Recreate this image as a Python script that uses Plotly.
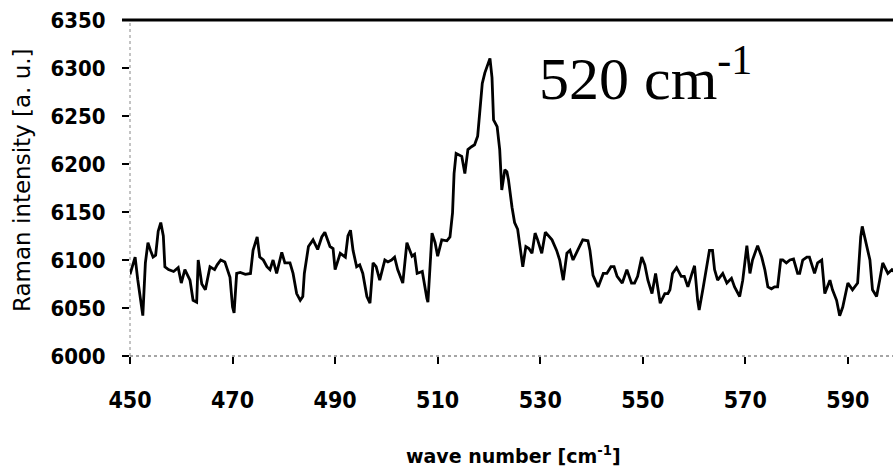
import plotly.graph_objects as go

# Raman spectrum
wavenumber = [
    450.0, 450.5, 451.0, 451.5, 452.0, 452.5, 453.0, 453.5, 454.0, 454.5,
    455.0, 455.5, 456.0, 456.5, 456.8, 457.5, 458.5, 459.4, 460.0, 460.7,
    461.7, 462.3, 463.0, 463.3, 464.0, 464.7, 465.6, 466.5, 467.0, 467.7,
    468.5, 469.5, 470.0, 470.3, 470.8, 471.5, 472.5, 473.5, 474.0, 474.8,
    475.3, 476.0, 476.7, 477.3, 477.9, 478.6, 479.6, 480.2, 481.2, 481.8,
    482.5, 483.2, 483.7, 484.0, 484.8, 485.7, 486.6, 487.4, 488.0, 488.4,
    489.0, 489.6, 490.0, 491.0, 492.0, 492.5, 493.0, 493.5, 494.2, 494.8,
    495.4, 496.2, 496.8, 497.4, 498.0, 498.7, 499.7, 500.3, 501.0, 501.6,
    502.2, 503.2, 504.0, 505.0, 505.5, 506.0, 507.0, 507.9, 508.1, 508.9,
    509.5, 510.0, 510.8, 511.8, 512.4, 512.9, 513.2, 513.6, 514.0, 514.7,
    515.3, 515.9, 516.6, 517.2, 517.8, 518.3, 518.7, 519.2, 519.8, 520.2,
    520.6, 520.9, 521.6, 522.1, 522.5, 523.1, 523.5, 523.8, 524.5, 525.0,
    525.6, 526.2, 526.6, 527.2, 527.8, 528.4, 529.0, 529.5, 530.3, 531.0,
    531.6, 532.3, 533.2, 533.8, 534.5, 535.2, 535.8, 536.4, 537.3, 538.3,
    539.3, 539.7, 540.3, 541.3, 542.3, 543.0, 543.8, 544.4, 545.0, 546.0,
    546.9, 547.8, 548.4, 549.0, 549.8, 550.4, 551.0, 551.8, 552.5, 553.4,
    554.3, 554.9, 555.3, 555.8, 556.6, 557.5, 558.1, 558.8, 559.6, 560.1,
    560.7, 561.0, 561.8, 562.5, 563.0, 563.6, 564.0, 564.6, 565.6, 566.4,
    567.3, 567.9, 568.9, 569.5, 570.3, 570.9, 571.4, 572.4, 573.2, 573.8,
    574.4, 575.1, 575.7, 576.3, 576.9, 577.3, 578.0, 578.7, 579.4, 580.2,
    580.6, 581.2, 582.0, 582.5, 583.5, 584.1, 584.9, 585.5, 586.5, 587.0,
    587.8, 588.4, 589.0, 590.0, 590.9, 591.9, 592.5, 592.8, 593.7, 594.3,
    594.8, 595.6, 596.2, 596.8, 597.8, 598.6, 599.0,
]
intensity = [
    6085, 6095, 6103, 6080, 6060, 6042, 6097, 6118, 6110, 6103,
    6105, 6130, 6139, 6125, 6093, 6090, 6088, 6092, 6076, 6090,
    6079, 6058, 6056, 6100, 6075, 6069, 6093, 6090, 6095, 6100,
    6098, 6082, 6051, 6045, 6086, 6087, 6085, 6086, 6110, 6124,
    6103, 6100, 6093, 6090, 6100, 6086, 6108, 6097, 6097, 6086,
    6065, 6058, 6062, 6086, 6114, 6121, 6111, 6124, 6129, 6122,
    6114, 6112, 6090, 6107, 6103, 6125, 6131, 6110, 6093, 6095,
    6086, 6062, 6055, 6097, 6093, 6079, 6100, 6098, 6100, 6103,
    6090, 6076, 6118, 6104, 6106, 6086, 6088, 6060, 6056, 6128,
    6118, 6104, 6121, 6120, 6124, 6149, 6190, 6211, 6210, 6208,
    6190, 6215, 6218, 6220, 6229, 6262, 6284, 6295, 6305, 6310,
    6290, 6246, 6239, 6215, 6173, 6194, 6192, 6184, 6155, 6139,
    6132, 6107, 6093, 6114, 6112, 6107, 6128, 6121, 6107, 6129,
    6125, 6121, 6110, 6100, 6079, 6107, 6110, 6100, 6110, 6121,
    6120, 6110, 6084, 6072, 6086, 6086, 6093, 6093, 6083, 6076,
    6090, 6076, 6076, 6083, 6103, 6095, 6079, 6065, 6086, 6055,
    6065, 6065, 6069, 6086, 6092, 6083, 6083, 6072, 6086, 6094,
    6058, 6048, 6072, 6097, 6110, 6110, 6090, 6079, 6086, 6076,
    6081, 6072, 6062, 6079, 6115, 6086, 6100, 6115, 6103, 6090,
    6072, 6070, 6072, 6072, 6100, 6100, 6097, 6100, 6101, 6086,
    6086, 6100, 6103, 6103, 6086, 6097, 6100, 6065, 6079, 6069,
    6058, 6042, 6051, 6076, 6069, 6076, 6124, 6135, 6114, 6100,
    6069, 6062, 6079, 6097, 6086, 6090, 6088,
]

x_ticks = [450, 470, 490, 510, 530, 550, 570, 590]
y_ticks = [6000, 6050, 6100, 6150, 6200, 6250, 6300, 6350]

x_title = "wave number [cm<sup>-1</sup>]"
y_title = "Raman intensity [a. u.]"
peak_label = "520 cm<sup>-1</sup>"

fig = go.Figure()
fig.add_trace(go.Scatter(
    x=wavenumber, y=intensity, mode="lines",
    line=dict(color="black", width=2.8),
    showlegend=False, hoverinfo="skip",
))

fig.update_layout(
    width=893, height=473,
    margin=dict(l=130, r=0, t=20, b=117),
    paper_bgcolor="white", plot_bgcolor="white",
    xaxis=dict(
        range=[450, 598.8], tickvals=x_ticks, ticktext=[str(v) for v in x_ticks],
        showgrid=False, zeroline=False, showline=False,
        ticks="outside", ticklen=7, tickwidth=2, tickcolor="black",
        tickfont=dict(family="DejaVu Sans Condensed", size=23, color="black", weight="bold"),
        ticklabelstandoff=16,
    ),
    yaxis=dict(
        range=[6000, 6350], tickvals=y_ticks, ticktext=[str(v) for v in y_ticks],
        showgrid=False, zeroline=False, showline=False,
        ticks="outside", ticklen=7, tickwidth=2, tickcolor="black",
        tickfont=dict(family="DejaVu Sans Condensed", size=22, color="black", weight="bold"),
        ticklabelstandoff=12,
    ),
    shapes=[
        dict(type="line", xref="paper", yref="paper", x0=-0.0105, x1=1, y0=1, y1=1,
             line=dict(color="black", width=3)),
        dict(type="line", xref="paper", yref="paper", x0=0, x1=0, y0=0, y1=1,
             line=dict(color="#888888", width=1, dash="dot"), layer="below"),
        dict(type="line", xref="paper", yref="paper", x0=0, x1=1, y0=0, y1=0,
             line=dict(color="#888888", width=1.5, dash="dot"), layer="below"),
    ],
    annotations=[
        dict(text=x_title, xref="paper", yref="paper", x=0.502, y=-0.295,
             xanchor="center", yanchor="middle", showarrow=False,
             font=dict(family="DejaVu Sans", size=19, color="black", weight="bold")),
        dict(text=y_title, xref="paper", yref="paper", x=-0.1415, y=0.524,
             xanchor="center", yanchor="middle", textangle=-90, showarrow=False,
             font=dict(family="DejaVu Sans", size=23, color="black")),
        dict(text=peak_label, xref="paper", yref="paper", x=0.533, y=0.838,
             xanchor="left", yanchor="middle", showarrow=False,
             font=dict(family="Liberation Serif", size=60, color="black")),
    ],
)

fig.write_html("out.html")
